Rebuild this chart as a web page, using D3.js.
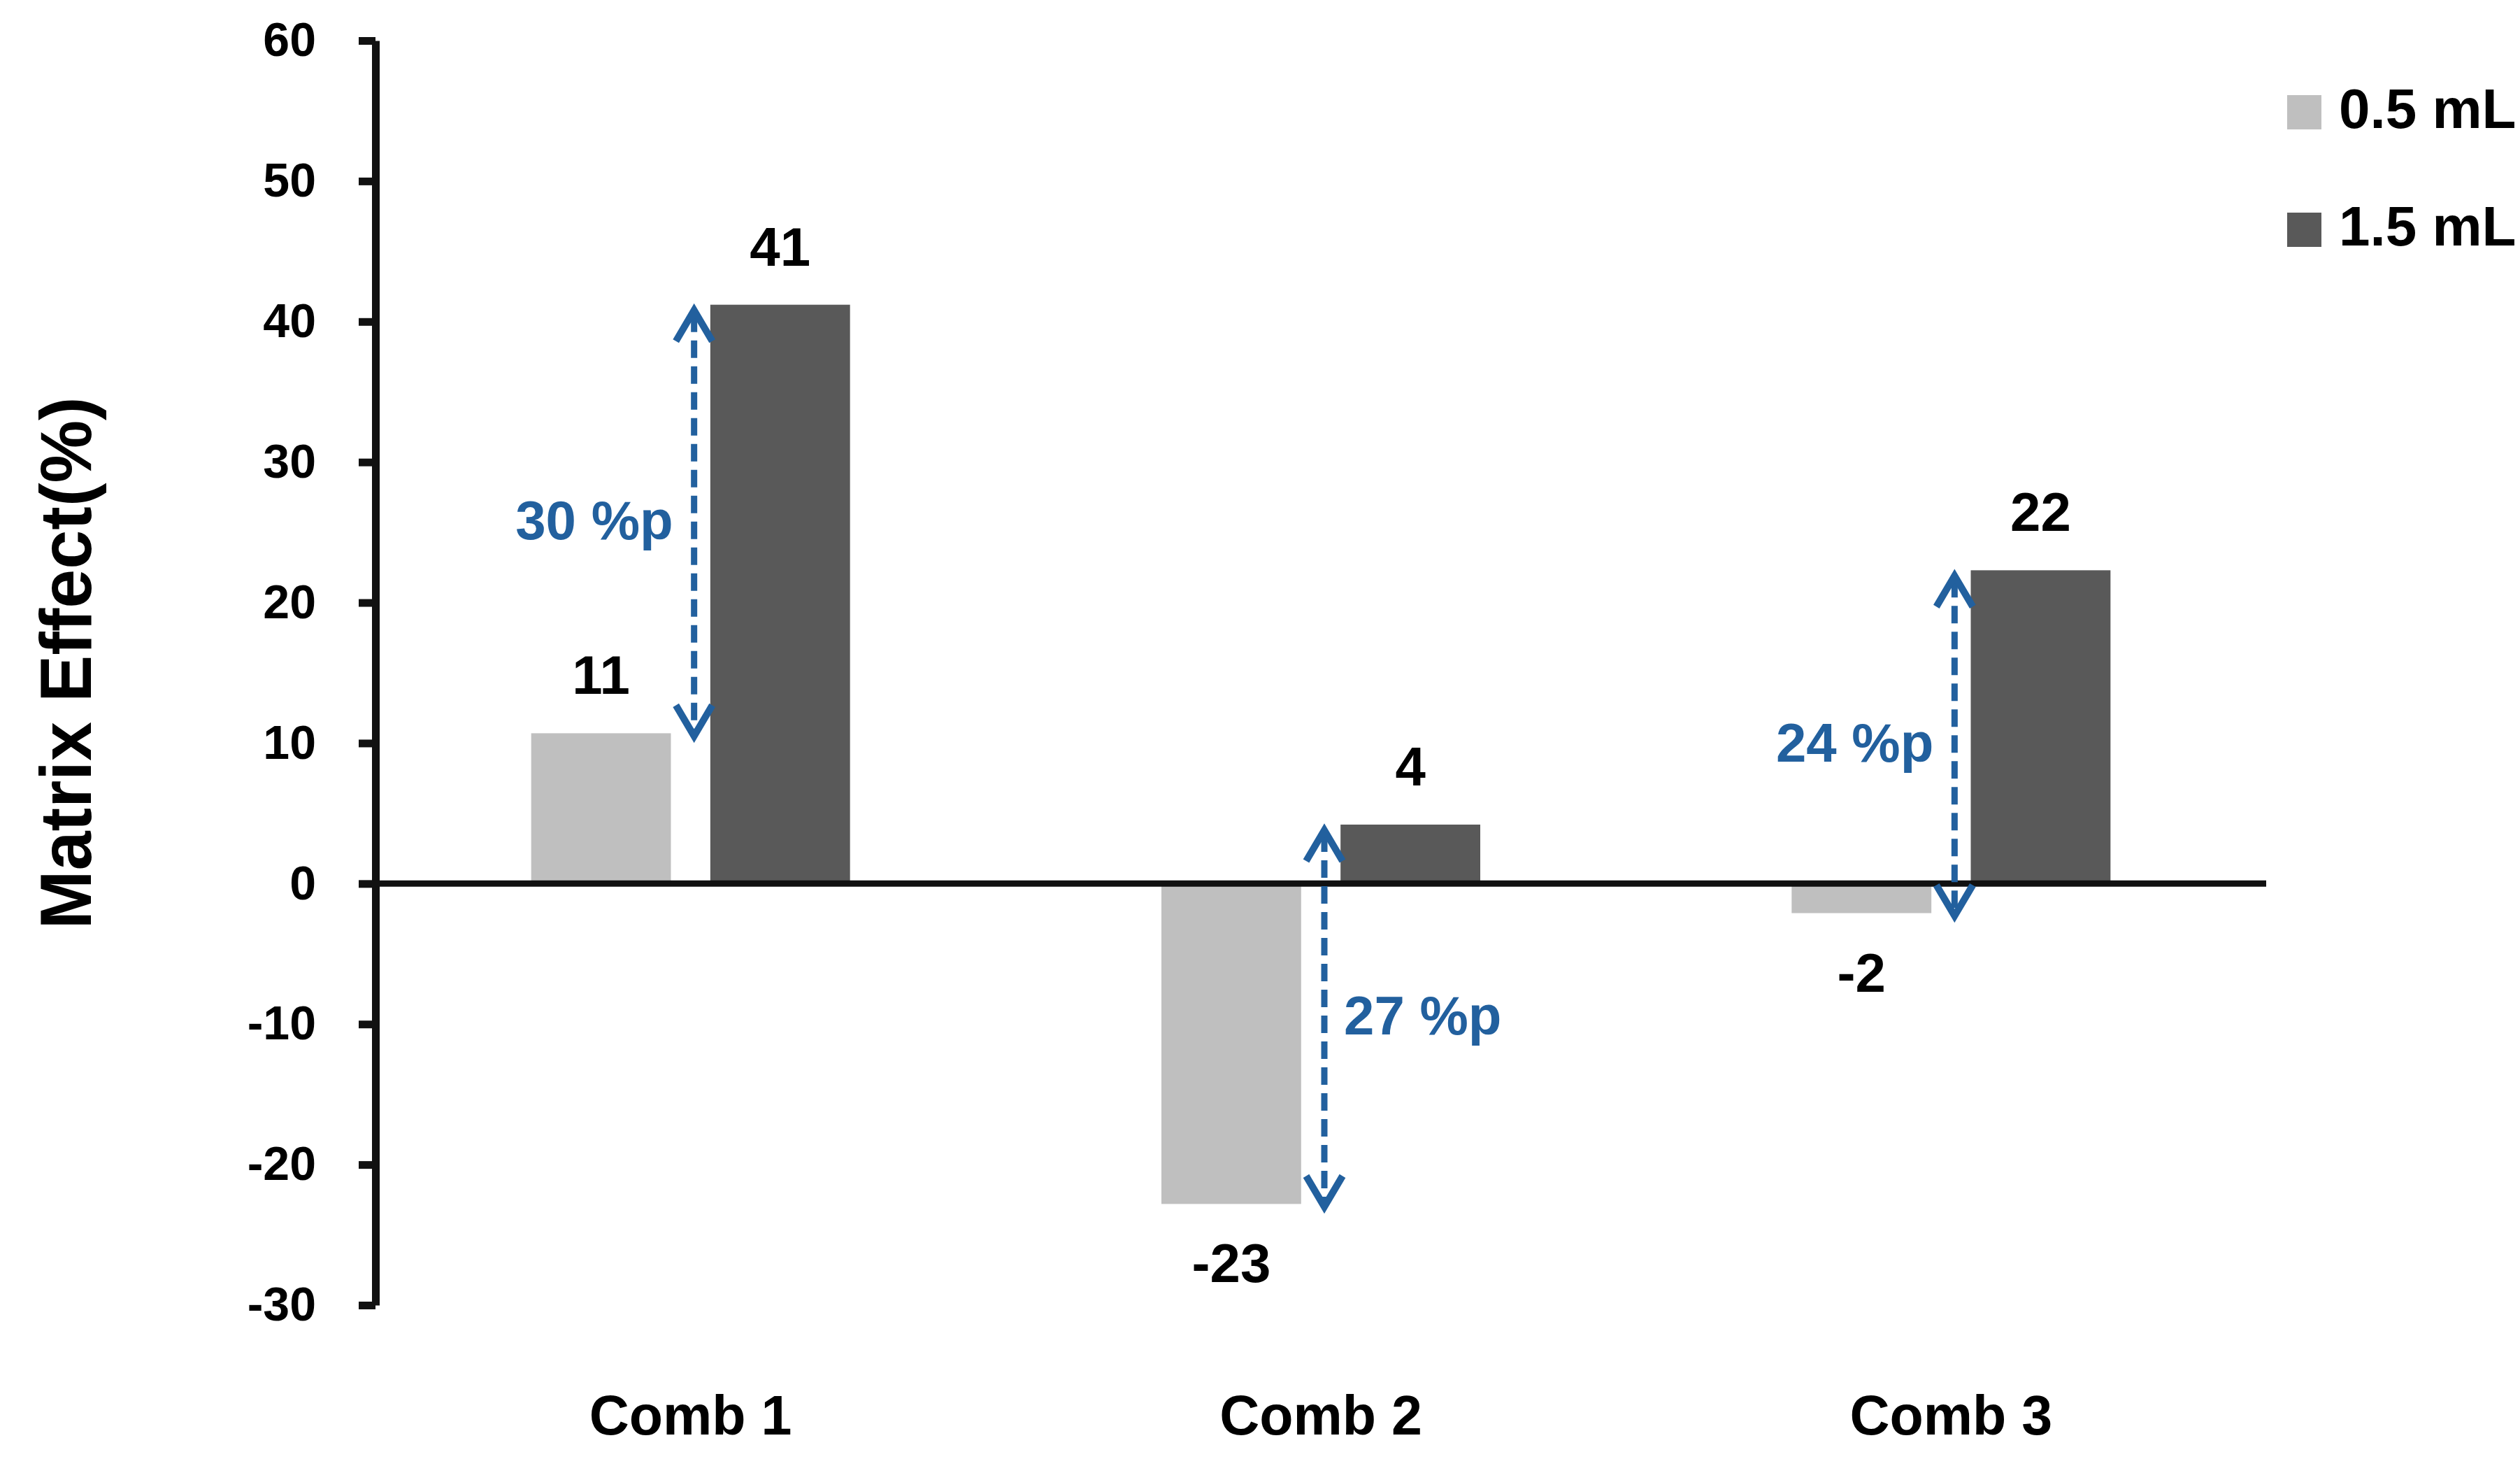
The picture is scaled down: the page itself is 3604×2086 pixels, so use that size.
<!DOCTYPE html>
<html>
<head>
<meta charset="utf-8">
<script src="https://cdn.jsdelivr.net/npm/d3@7"></script>
<style>
  html, body { margin: 0; padding: 0; background: #fff; }
  svg text { font-family: "Liberation Sans", Arial, sans-serif; font-weight: bold; }
</style>
</head>
<body>
<svg id="chart" width="3604" height="2086"></svg>
<script>
// ---- data ----
const categories = ["Comb 1", "Comb 2", "Comb 3"];
const seriesNames = ["0.5 mL", "1.5 mL"];
const values05 = [10.7, -22.8, -2.1];
const values15 = [41.2, 4.2, 22.3];
const diffLabels = ["30 %p", "27 %p", "24 %p"];
const diffLabelSide = ["left", "right", "left"];
const yTicks = [-30, -20, -10, 0, 10, 20, 30, 40, 50, 60];
const yTitle = "Matrix Effect(%)";
const seriesColors = ["#BFBFBF", "#595959"];

// ---- layout ----
const svg = d3.select("#chart");
const axisX = 537, plotRight = 3241, yTop = 58, yBottom = 1866;
const blue = "#22609E";
const fmt = v => String(Math.round(v)); // plain hyphen-minus like the reference

const y = d3.scaleLinear().domain([-30, 60]).range([yBottom, yTop]);
const x0 = d3.scaleBand().domain(categories).range([axisX, plotRight]).padding(0);
const pairWidth = 456;
const x1 = d3.scaleBand().domain(seriesNames).range([0, pairWidth]).paddingInner(0.22);
const color = d3.scaleOrdinal().domain(seriesNames).range(seriesColors);

const data = categories.map((c, i) => ({
  cat: c,
  vals: [{ s: seriesNames[0], v: values05[i] }, { s: seriesNames[1], v: values15[i] }],
  diff: diffLabels[i],
  side: diffLabelSide[i]
}));
const center = c => x0(c) + x0.bandwidth() / 2;

// ---- bars ----
const groups = svg.append("g").selectAll("g").data(data).join("g")
  .attr("transform", d => `translate(${center(d.cat) - pairWidth / 2},0)`);
groups.selectAll("rect").data(d => d.vals).join("rect")
  .attr("x", d => x1(d.s))
  .attr("width", x1.bandwidth())
  .attr("y", d => y(Math.max(0, d.v)))
  .attr("height", d => Math.abs(y(d.v) - y(0)))
  .attr("fill", d => color(d.s));
groups.selectAll("text.val").data(d => d.vals).join("text")
  .attr("class", "val")
  .attr("x", d => x1(d.s) + x1.bandwidth() / 2)
  .attr("y", d => d.v >= 0 ? y(d.v) - 56 : y(d.v) + 112)
  .attr("text-anchor", "middle")
  .attr("font-size", 78)
  .attr("fill", "#000")
  .text(d => fmt(d.v));

// ---- y axis ----
const yAxis = d3.axisLeft(y).tickValues(yTicks).tickSize(24).tickSizeOuter(0).tickPadding(61)
  .tickFormat(fmt);
const gy = svg.append("g").attr("transform", `translate(${axisX},0)`).call(yAxis);
gy.select(".domain").attr("stroke", "#111").attr("stroke-width", 11);
gy.selectAll(".tick line").attr("stroke", "#111").attr("stroke-width", 11);
gy.selectAll(".tick text").attr("font-size", 68).attr("fill", "#000")
  .attr("font-family", "'Liberation Sans', Arial, sans-serif").attr("font-weight", "bold");

// zero line
svg.append("line")
  .attr("x1", axisX).attr("x2", plotRight)
  .attr("y1", y(0)).attr("y2", y(0))
  .attr("stroke", "#111").attr("stroke-width", 9);

// category labels
svg.append("g").selectAll("text").data(categories).join("text")
  .attr("x", d => center(d))
  .attr("y", 2051)
  .attr("text-anchor", "middle")
  .attr("font-size", 79)
  .attr("fill", "#000")
  .text(d => d);

// y title
svg.append("text")
  .attr("transform", `translate(130,948) rotate(-90)`)
  .attr("text-anchor", "middle")
  .attr("font-size", 104)
  .attr("textLength", 761)
  .attr("lengthAdjust", "spacingAndGlyphs")
  .attr("fill", "#000")
  .text(yTitle);

// ---- difference arrows ----
const arr = svg.append("g");
data.forEach(d => {
  const ax = center(d.cat) + 5;
  const yHi = y(d.vals[1].v) + 6;
  const yLo = y(d.vals[0].v) + 6;
  const top = Math.min(yHi, yLo), bot = Math.max(yHi, yLo);
  arr.append("line")
    .attr("x1", ax).attr("x2", ax).attr("y1", top + 8).attr("y2", bot - 8)
    .attr("stroke", blue).attr("stroke-width", 9).attr("stroke-dasharray", "25,12");
  arr.append("path")
    .attr("d", `M${ax - 26},${top + 46}L${ax},${top + 2}L${ax + 26},${top + 46}`)
    .attr("fill", "none").attr("stroke", blue).attr("stroke-width", 10);
  arr.append("path")
    .attr("d", `M${ax - 26},${bot - 46}L${ax},${bot - 2}L${ax + 26},${bot - 46}`)
    .attr("fill", "none").attr("stroke", blue).attr("stroke-width", 10);
  const mid = (y(d.vals[0].v) + y(d.vals[1].v)) / 2;
  arr.append("text")
    .attr("x", d.side === "left" ? ax - 30 : ax + 28)
    .attr("y", mid + 29)
    .attr("text-anchor", d.side === "left" ? "end" : "start")
    .attr("font-size", 78)
    .attr("fill", blue)
    .text(d.diff);
});

// ---- legend ----
const legend = svg.append("g").selectAll("g").data(seriesNames).join("g")
  .attr("transform", (d, i) => `translate(3271,${136 + i * 168})`);
legend.append("rect").attr("width", 49).attr("height", 49).attr("fill", d => color(d));
legend.append("text").attr("x", 74).attr("y", 47).attr("font-size", 80).attr("fill", "#000").text(d => d);
</script>
</body>
</html>
